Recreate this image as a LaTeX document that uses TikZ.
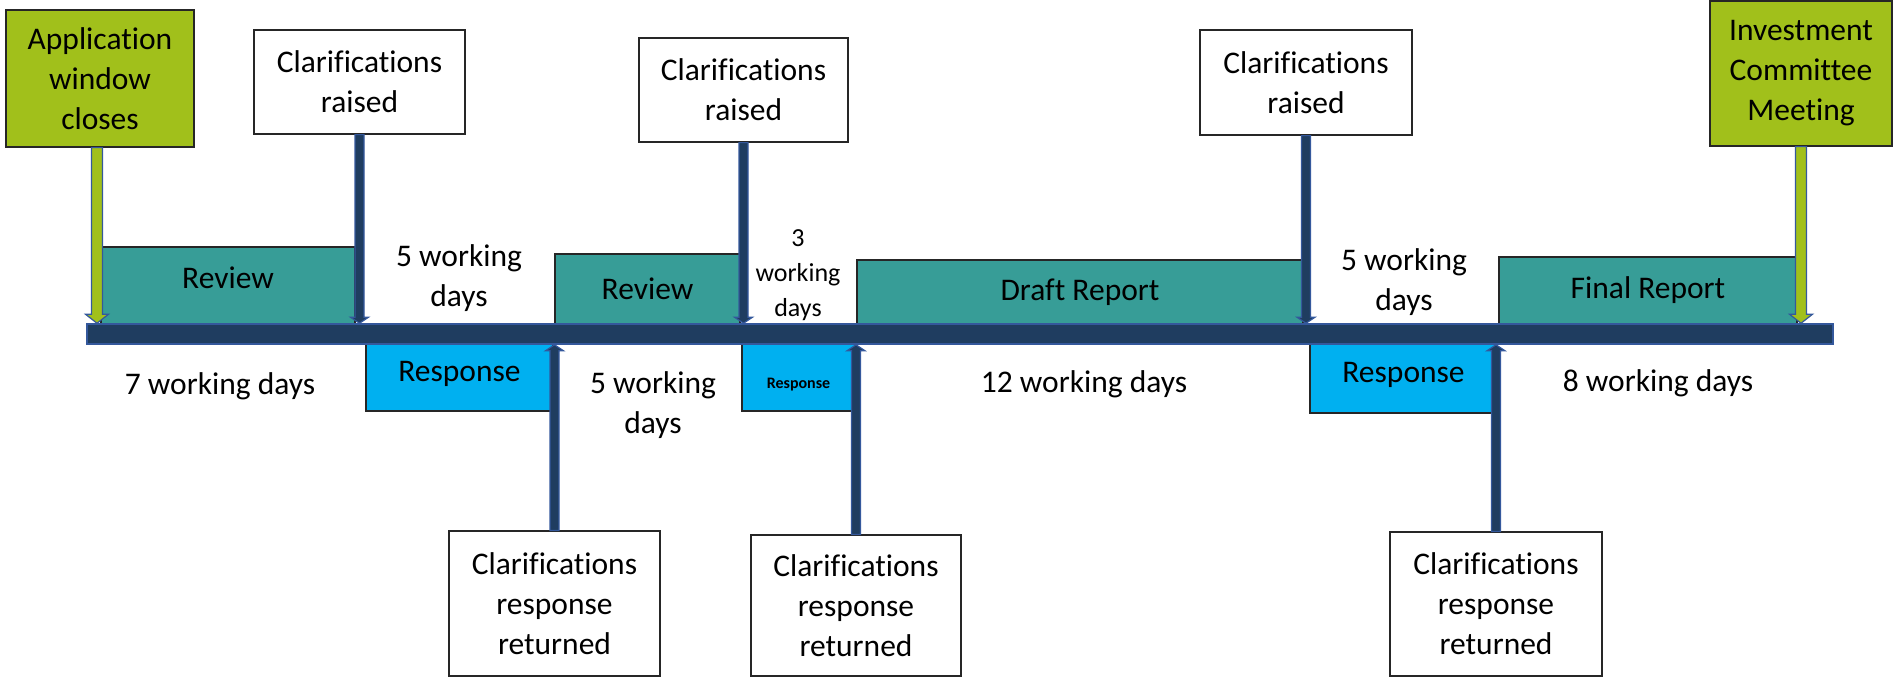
\documentclass[tikz,border=0pt]{standalone}
\usepackage{fontspec}
\setmainfont{Carlito}[Ligatures=NoCommon]
\usetikzlibrary{calc}
\definecolor{appgreen}{RGB}{161,192,27}
\definecolor{phaseteal}{RGB}{55,157,151}
\definecolor{respblue}{RGB}{0,176,240}
\definecolor{barnavy}{RGB}{31,61,96}
\definecolor{edgeblue}{RGB}{52,88,156}
\definecolor{boxgrey}{RGB}{38,38,38}

\begin{document}
\begin{tikzpicture}[line join=miter,x=1pt,y=-1pt,
  box/.style={draw=boxgrey,line width=1.2pt,inner sep=0pt,align=center,font=\fontsize{31.5}{40}\selectfont},
  milestone/.style={box,fill=appgreen},
  clarif/.style={box,fill=white},
  phase/.style={box,fill=phaseteal},
  resp/.style={box,fill=respblue},
  days/.style={inner sep=0pt,align=center,font=\fontsize{31.5}{40}\selectfont},
  timebar/.style={draw=edgeblue,fill=barnavy,line width=1.5pt,inner sep=0pt,minimum width=1746pt,minimum height=20pt},
  blockarrow/.style n args={3}{to path={let \p1=(\tikztostart), \p2=(\tikztotarget),
    \p3=($(\tikztotarget)!#3!(\tikztostart)$) in
    (\x1-#1,\y1) -- (\x1-#1,\y3) -- (\x1-#2,\y3) -- (\x1,\y2)
    -- (\x1+#2,\y3) -- (\x1+#1,\y3) -- (\x1+#1,\y1) -- cycle}},
  greenarrow/.style={draw=edgeblue,fill=appgreen,line width=1.2pt,blockarrow={5.5pt}{11.5pt}{9pt}},
  navyarrow/.style={draw=edgeblue,fill=barnavy,line width=1.2pt,blockarrow={4.5pt}{9pt}{6pt}}]
\useasboundingbox (0,0) rectangle (1893,685);

% milestones and clarification boxes
\node[milestone,minimum width=188pt,minimum height=137pt] (app) at (100,78.5) {Application\\window\\closes};
\node[milestone,minimum width=182pt,minimum height=145pt] (icm) at (1801,73.5) {Investment\\Committee\\Meeting};
\node[clarif,minimum width=211pt,minimum height=104pt] (raise1) at (359.5,82) {Clarifications\\raised};
\node[clarif,minimum width=209pt,minimum height=104pt] (raise2) at (743.5,90) {Clarifications\\raised};
\node[clarif,minimum width=212pt,minimum height=105pt] (raise3) at (1306,82.5) {Clarifications\\raised};
\node[clarif,minimum width=211pt,minimum height=145pt] (ret1) at (554.5,603.5) {Clarifications\\response\\returned};
\node[clarif,minimum width=210pt,minimum height=141pt] (ret2) at (856,605.5) {Clarifications\\response\\returned};
\node[clarif,minimum width=212pt,minimum height=144pt] (ret3) at (1496,604) {Clarifications\\response\\returned};

% phases
\node[phase,minimum width=254pt,minimum height=77pt,text depth=15pt] (rev1) at (228,285.5) {Review};
\node[phase,minimum width=185pt,minimum height=70pt] (rev2) at (647.5,289) {Review};
\node[phase,minimum width=446pt,minimum height=64pt] (draft) at (1080,292) {Draft Report};
\node[phase,minimum width=298pt,minimum height=67pt] (final) at (1648,290.5) {Final Report};
\node[resp,minimum width=187pt,minimum height=67pt,text depth=13pt] (resp1) at (459.5,377.5) {Response};
\node[resp,minimum width=113pt,minimum height=67pt,text height=25pt,font=\fontsize{16}{19}\selectfont\bfseries] (resp2) at (798.5,377.5) {Response};
\node[resp,minimum width=187pt,minimum height=69pt,text depth=13pt] (resp3) at (1403.5,378.5) {Response};

\node[timebar] (bar) at (960,334) {};

% durations
\node[days] (d1) at (220,386) {7 working days};
\node[days] (d2) at (459,278) {5 working\\days};
\node[days] (d3) at (653,405) {5 working\\days};
\node[days,font=\fontsize{26}{35}\selectfont] (d4) at (798,275) {3\\working\\days};
\node[days] (d5) at (1084,384) {12 working days};
\node[days] (d6) at (1404,282) {5 working\\days};
\node[days] (d7) at (1658,383) {8 working days};

\draw[greenarrow] ([xshift=-3pt]app.south) to ([xshift=-3pt]app.south |- bar.north);
\draw[greenarrow] (icm.south) to (icm.south |- bar.north);
\draw[navyarrow] (raise1.south) to (raise1.south |- bar.north);
\draw[navyarrow] (raise2.south) to (raise2.south |- bar.north);
\draw[navyarrow] (raise3.south) to (raise3.south |- bar.north);
\draw[navyarrow] (ret1.north) to (ret1.north |- bar.south);
\draw[navyarrow] (ret2.north) to (ret2.north |- bar.south);
\draw[navyarrow] (ret3.north) to (ret3.north |- bar.south);
\end{tikzpicture}
\end{document}
